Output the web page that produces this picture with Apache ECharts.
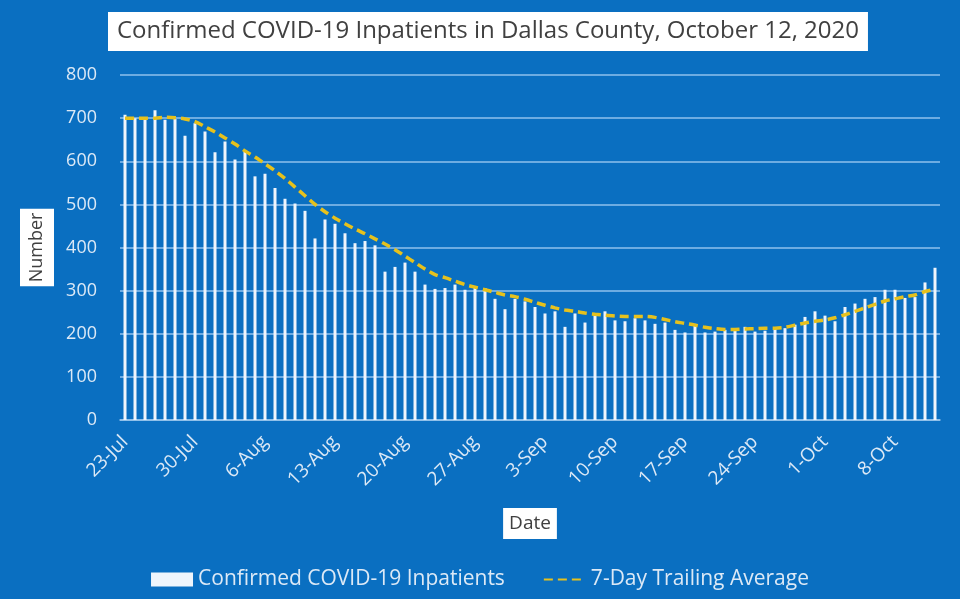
<!DOCTYPE html>
<html>
<head>
<meta charset="utf-8">
<script src="https://cdn.jsdelivr.net/npm/echarts@6/dist/echarts.min.js"></script>
<style>
  html, body { margin: 0; padding: 0; background: #0a6fc1; }
  #chart { width: 960px; height: 599px; }
</style>
</head>
<body>
<div id="chart"></div>
<script>
// daily dates, 23-Jul .. 12-Oct
const dates = [
  '23-Jul','24-Jul','25-Jul','26-Jul','27-Jul','28-Jul','29-Jul','30-Jul','31-Jul',
  '1-Aug','2-Aug','3-Aug','4-Aug','5-Aug','6-Aug','7-Aug','8-Aug','9-Aug','10-Aug',
  '11-Aug','12-Aug','13-Aug','14-Aug','15-Aug','16-Aug','17-Aug','18-Aug','19-Aug',
  '20-Aug','21-Aug','22-Aug','23-Aug','24-Aug','25-Aug','26-Aug','27-Aug','28-Aug',
  '29-Aug','30-Aug','31-Aug','1-Sep','2-Sep','3-Sep','4-Sep','5-Sep','6-Sep','7-Sep',
  '8-Sep','9-Sep','10-Sep','11-Sep','12-Sep','13-Sep','14-Sep','15-Sep','16-Sep',
  '17-Sep','18-Sep','19-Sep','20-Sep','21-Sep','22-Sep','23-Sep','24-Sep','25-Sep',
  '26-Sep','27-Sep','28-Sep','29-Sep','30-Sep','1-Oct','2-Oct','3-Oct','4-Oct',
  '5-Oct','6-Oct','7-Oct','8-Oct','9-Oct','10-Oct','11-Oct','12-Oct'
];

const inpatients = [
  708, 700, 696, 718, 696, 698, 659, 688, 669, 621, 646, 604, 623, 565, 571, 538,
  513, 502, 485, 421, 465, 455, 433, 410, 415, 405, 344, 355, 365, 344, 314, 304,
  306, 314, 302, 306, 306, 281, 257, 281, 275, 262, 247, 252, 216, 247, 226, 244,
  252, 231, 229, 236, 231, 223, 226, 209, 203, 223, 203, 205, 209, 209, 216, 205,
  207, 213, 213, 221, 239, 252, 242, 229, 262, 270, 281, 285, 302, 302, 283, 285,
  319, 353
];

const trailingAvg = [
  700, 700, 700, 700, 702, 701, 698, 692, 680, 668, 654, 640, 624, 610, 594, 578,
  560, 540, 520, 500, 483, 468, 455, 443, 432, 420, 408, 395, 380, 365, 350, 337,
  330, 322, 314, 308, 302, 296, 290, 286, 280, 273, 266, 260, 255, 252, 248, 245,
  243, 241, 240, 240, 240, 238, 233, 228, 224, 220, 215, 212, 210, 210, 211, 212,
  213, 213, 215, 220, 225, 229, 232, 237, 244, 252, 260, 268, 276, 281, 286, 290,
  298, 303
];

const yTicks = [0, 100, 200, 300, 400, 500, 600, 700, 800];

const chart = echarts.init(document.getElementById('chart'));
const font = '"Open Sans", "Noto Sans", sans-serif';
const light = '#dce9f6';
const yellow = '#e6c11d';

chart.setOption({
  backgroundColor: '#0a6fc1',
  textStyle: { fontFamily: font },
  title: {
    text: 'Confirmed COVID-19 Inpatients in Dallas County, October 12, 2020',
    left: 108,
    top: 12,
    backgroundColor: '#ffffff',
    padding: [4, 9, 4, 9],
    textStyle: { color: '#404040', fontSize: 24, lineHeight: 31, fontWeight: 'normal', fontFamily: font }
  },
  legend: {
    bottom: 4,
    left: 'center',
    itemGap: 38,
    itemWidth: 42,
    itemHeight: 14,
    textStyle: { color: light, fontSize: 21 },
    data: [
      { name: 'Confirmed COVID-19 Inpatients', icon: 'rect' },
      { name: '7-Day Trailing Average', itemStyle: { opacity: 0 } }
    ]
  },
  grid: { left: 120, right: 20, top: 75, bottom: 179 },
  xAxis: {
    type: 'category',
    data: dates,
    name: 'Date',
    nameLocation: 'middle',
    nameGap: 88,
    nameTextStyle: {
      color: '#404040', fontSize: 19, backgroundColor: '#fff',
      padding: [6, 6, 6, 6]
    },
    axisLine: { lineStyle: { color: '#9cc6ec', width: 1.5 } },
    axisTick: { interval: 0, length: 5, lineStyle: { color: '#9cc6ec' } },
    axisLabel: {
      interval: 6,
      rotate: 45,
      color: light,
      fontSize: 19,
      margin: 19
    }
  },
  yAxis: {
    type: 'value',
    min: yTicks[0],
    max: yTicks[yTicks.length - 1],
    interval: 100,
    name: 'Number',
    nameLocation: 'middle',
    nameGap: 66,
    nameRotate: 90,
    nameTextStyle: {
      color: '#404040', fontSize: 18, backgroundColor: '#fff',
      padding: [8, 4, 8, 4]
    },
    axisLine: { show: false },
    axisTick: { show: false },
    axisLabel: { color: light, fontSize: 18, margin: 23 },
    splitLine: { lineStyle: { color: '#8fc1ec', width: 1.5 } }
  },
  series: [
    {
      name: 'Confirmed COVID-19 Inpatients',
      type: 'bar',
      data: inpatients,
      barWidth: 3,
      itemStyle: { color: '#eef5fc' }
    },
    {
      name: '7-Day Trailing Average',
      type: 'line',
      data: trailingAvg,
      symbol: 'none',
      smooth: 0.3,
      itemStyle: { color: yellow },
      lineStyle: { color: yellow, width: 3.5, type: [9, 5] },
      z: 3
    }
  ]
});
</script>
</body>
</html>
